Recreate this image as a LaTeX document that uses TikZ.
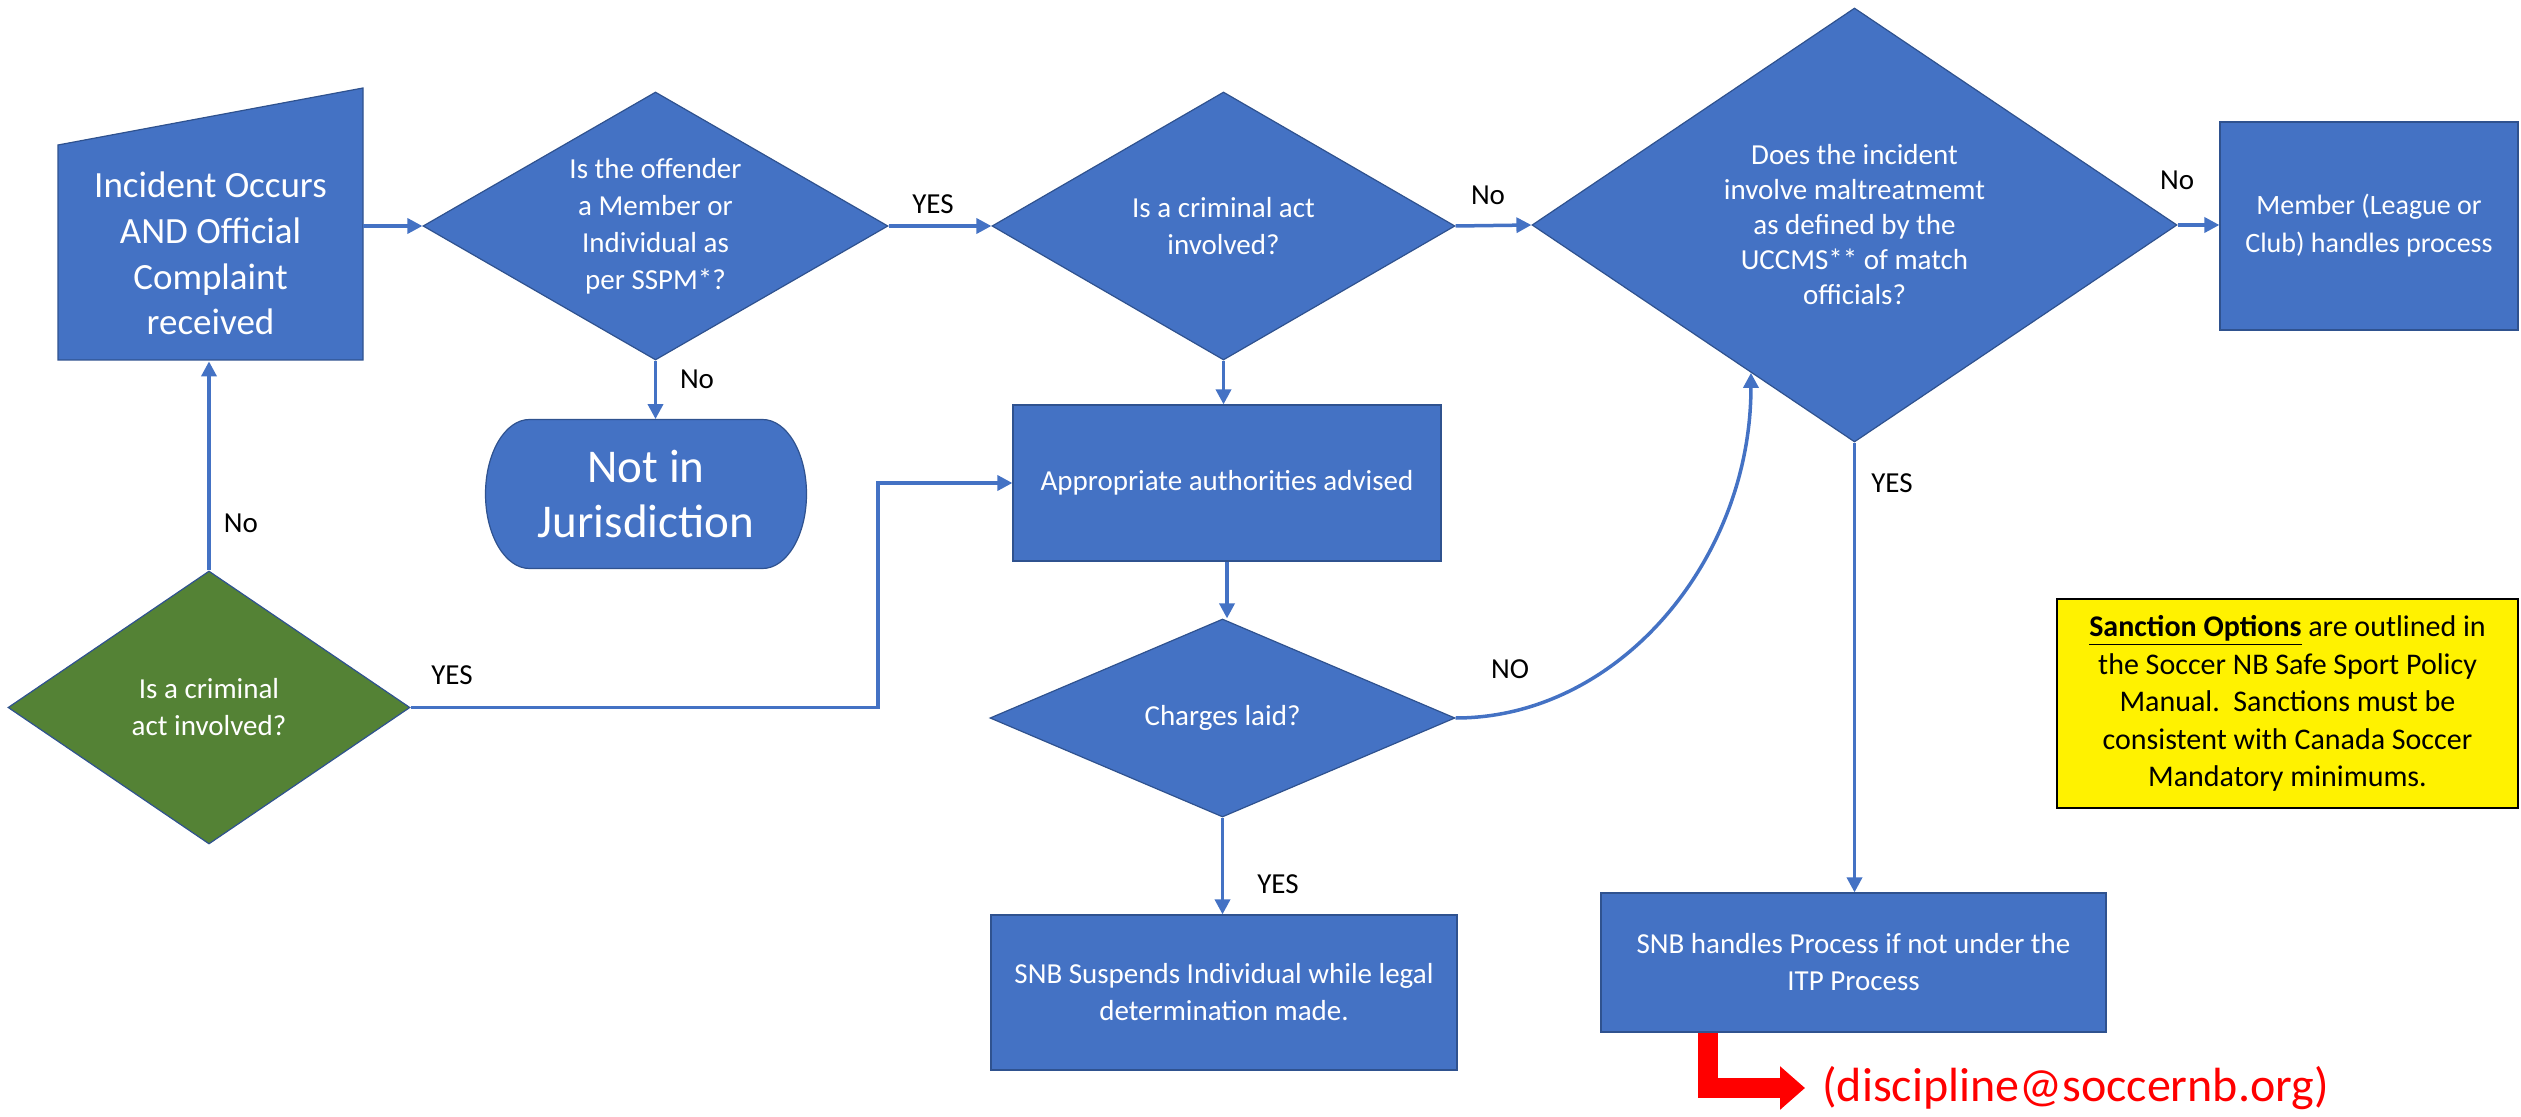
\documentclass[tikz,border=0pt]{standalone}
\usepackage{fontspec}
\setmainfont{Carlito}
\usetikzlibrary{shapes.geometric,arrows.meta}
\definecolor{nbblue}{HTML}{4472C4}
\definecolor{nbedge}{HTML}{2F528F}
\definecolor{nbgreen}{HTML}{548235}

\begin{document}
\begin{tikzpicture}[x=0.5pt,y=-0.5pt,
  shapeline/.style={draw=nbedge,line width=0.6pt},
  process/.style={rectangle,shapeline,fill=nbblue,text=white,align=center,inner sep=0pt,font=\fontsize{14.5}{18.5}\selectfont},
  decision/.style={diamond,shapeline,fill=nbblue,text=white,align=center,inner sep=0pt,font=\fontsize{14.5}{18.5}\selectfont},
  flow/.style={draw=nbblue,line width=1.75pt,-{Triangle[length=7.5pt,width=7.5pt]}},
  answer/.style={inner sep=0pt,font=\fontsize{14.5}{16}\selectfont}]
  \useasboundingbox (0,0) rectangle (2521,1117);

  \draw[shapeline,fill=nbblue] (58,145) -- (363,88) -- (363,360) -- (58,360) -- cycle;
  \node[text=white,align=center,inner sep=0pt,minimum width=152.5pt,minimum height=107.5pt,
    font=\fontsize{18.5}{22.8}\selectfont] (incident) at (210.5,253.5) {Incident Occurs\\AND Official\\Complaint\\received};

  \draw[shapeline,fill=nbblue] (529.5,419.5) -- (762.5,419.5)
    arc[start angle=-90,end angle=90,x radius=44,y radius=74.5] -- (529.5,568.5)
    arc[start angle=90,end angle=270,x radius=44,y radius=74.5] -- cycle;
  \node[text=white,align=center,inner sep=0pt,minimum width=160.5pt,minimum height=74.5pt,
    font=\fontsize{23.5}{27.5}\selectfont] (notin) at (646,494) {Not in\\Jurisdiction};

  \node[decision,aspect=1.735,minimum width=232.5pt,minimum height=134pt] (offender) at (655.5,226)
    {Is the offender\\a Member or\\Individual as\\per SSPM*?};
  \node[decision,aspect=1.73,minimum width=231.5pt,minimum height=134pt] (criminal) at (1223.5,226)
    {Is a criminal act\\involved?};
  \node[decision,aspect=1.486,minimum width=322.5pt,minimum height=217pt,font=\fontsize{14.5}{17.5}\selectfont]
    (maltreat) at (1854.5,225) {Does the incident\\involve maltreatmemt\\as defined by the\\UCCMS** of match\\officials?};
  \node[process,minimum width=149pt,minimum height=104pt,font=\fontsize{14}{19}\selectfont] (member) at (2369,226)
    {Member (League or\\Club) handles process};
  \node[process,minimum width=214pt,minimum height=78pt] (authorities) at (1227,483)
    {Appropriate authorities advised};
  \node[decision,aspect=2.35,minimum width=232.5pt,minimum height=99pt] (charges) at (1222.5,718)
    {Charges laid?};
  \node[process,minimum width=233pt,minimum height=77.5pt] (suspends) at (1224,992.5)
    {SNB Suspends Individual while legal\\determination made.};
  \node[process,minimum width=252.5pt,minimum height=69.5pt] (handles) at (1853.5,962.5)
    {SNB handles Process if not under the\\ITP Process};
  \node[decision,fill=nbgreen,aspect=1.47,minimum width=201pt,minimum height=136.5pt] (greenq) at (209,707.5)
    {Is a criminal\\act involved?};

  \node[rectangle,draw=black,line width=1pt,fill=yellow,align=center,inner sep=0pt,minimum width=230.5pt,
    minimum height=104.5pt,font=\fontsize{15}{18.75}\selectfont] (sanction) at (2287.5,703.5)
    {\textbf{\underline{Sanction Options}} are outlined in\\the Soccer NB Safe Sport Policy\\Manual.\ \ Sanctions must be\\consistent with Canada Soccer\\Mandatory minimums.};
  \node[anchor=west,inner sep=0pt,text=red,font=\fontsize{24}{27}\selectfont] (email) at (1822,1088)
    {(discipline@soccernb.org)};

  \draw[flow] (incident.east |- offender.west) -- (offender.west);
  \draw[flow] (offender.east) -- (criminal.west);
  \draw[flow] (criminal.east) -- (maltreat.west);
  \draw[flow] (maltreat.east) -- (maltreat.east -| member.west);
  \draw[flow] (offender.south) -- (offender.south |- notin.north);
  \draw[flow] (criminal.south) -- (criminal.south |- authorities.north);
  \draw[flow] (authorities.south) -- (authorities.south |- charges.north);
  \draw[flow] (charges.south) -- (charges.south |- suspends.north);
  \draw[flow] (charges.east) .. controls +(163,0) and +(0,187) .. (maltreat.235);
  \draw[flow] (maltreat.south) -- (maltreat.south |- handles.north);
  \draw[flow] (greenq.north) -- (greenq.north |- incident.south);
  \coordinate (jog) at (878,600);
  \draw[flow] (greenq.east) -| (jog) |- (authorities.west);

  \coordinate (mailstart) at (1707.5,1033);
  \draw[red,line width=10pt,-{Triangle[length=12.5pt,width=21pt]}] (mailstart) |- ([xshift=-8.5pt]email.west);

  \node[answer] (yes1) at (933,204) {YES};
  \node[answer] (no1) at (1488,195) {No};
  \node[answer] (no2) at (2177,180) {No};
  \node[answer] (no3) at (697,379) {No};
  \node[answer] (no4) at (241,523) {No};
  \node[answer] (yes2) at (452,675) {YES};
  \node[answer] (yes3) at (1278,884) {YES};
  \node[answer] (no5) at (1510,669) {NO};
  \node[answer] (yes4) at (1892,483) {YES};
\end{tikzpicture}
\end{document}
